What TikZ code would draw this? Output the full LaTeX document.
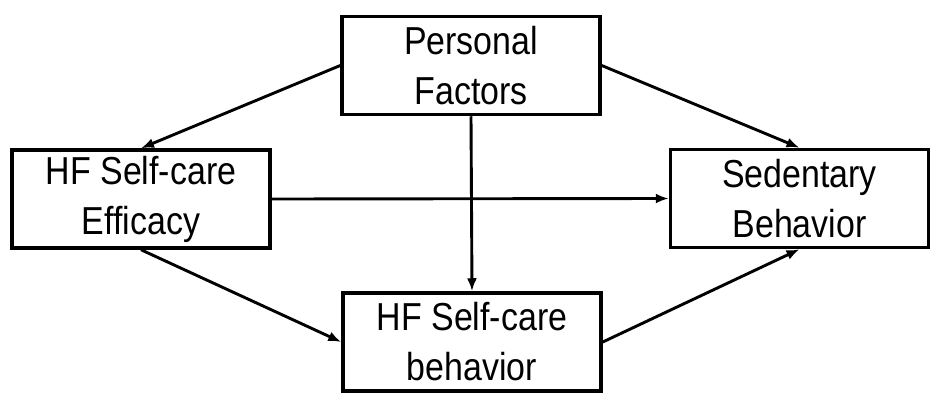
\documentclass[tikz,border=0pt]{standalone}
\usepackage{fontspec}
\setmainfont[FakeStretch=0.87]{Liberation Sans}
\usetikzlibrary{arrows.meta}
\begin{document}
\begin{tikzpicture}[x=1pt,y=-1pt,
  box/.style={draw=black,line width=3.5pt,minimum width=258pt,minimum height=98pt,inner sep=0pt,
    align=center,font=\fontsize{39}{50}\selectfont},
  conn/.style={line width=2.9pt,-{Latex[length=13pt,width=10pt]}}]
\useasboundingbox (0,0) rectangle (945,407);
\node[box] (pf) at (471,65.5) {Personal\\Factors};
\node[box] (eff) at (141,199) {HF Self-care\\Efficacy};
\node[box] (sed) at (799.5,198.5) {Sedentary\\Behavior};
\node[box] (beh) at (472,342) {HF Self-care\\behavior};
\draw[conn] (pf.west) -- (eff.north);
\draw[conn] (pf.east) -- (sed.north);
\draw[conn] (pf.south) -- (beh.north);
\draw[conn] (eff.east) -- (sed.west);
\draw[conn] (eff.south) -- (beh.west);
\draw[conn] (beh.east) -- (sed.south);
\end{tikzpicture}
\end{document}
